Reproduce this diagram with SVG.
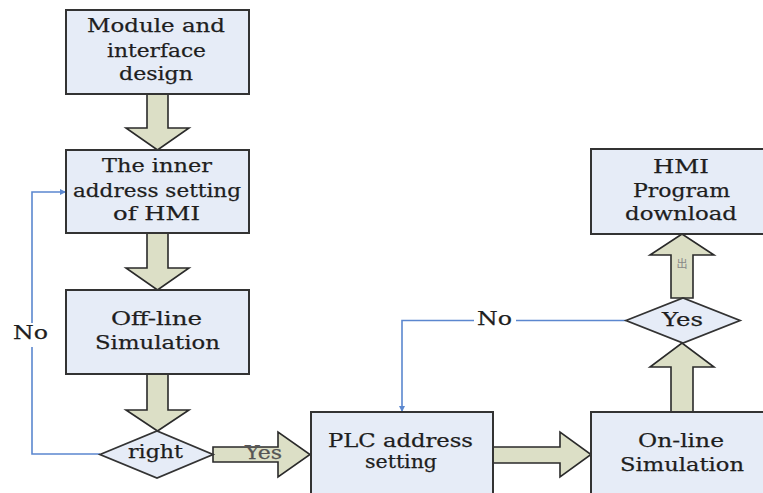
<svg xmlns="http://www.w3.org/2000/svg" width="763" height="493" viewBox="0 0 763 493">
<style>
.box{fill:#e6ecf7;stroke:#333;stroke-width:2}
.arr{fill:#dcdfc6;stroke:#2a2a2a;stroke-width:1.6;stroke-linejoin:miter}
.dia{fill:#e6ecf7;stroke:#333;stroke-width:1.8}
.blue{fill:none;stroke:#5b87cf;stroke-width:1.6}
text{font-family:"DejaVu Serif","Liberation Serif",serif;font-size:19px;fill:#1e1e1e;stroke:#1e1e1e;stroke-width:0.25;text-anchor:middle}
</style>
<defs>
<marker id="ah" viewBox="0 0 10 10" refX="10" refY="5" markerWidth="6" markerHeight="6" orient="auto" markerUnits="userSpaceOnUse">
<path d="M0,0 L10,5 L0,10 z" fill="#5b87cf"/>
</marker>
</defs>
<rect width="763" height="493" fill="#fff"/>

<g id="connectors">
<polygon class="arr" points="147,94 168,94 168,128 189,128 157.5,150 126,128 147,128"/>
<polygon class="arr" points="147,233 168,233 168,268 189,268 157.5,290 126,268 147,268"/>
<polygon class="arr" points="147,374 168,374 168,410 189,410 157.5,431 126,410 147,410"/>
<polygon class="arr" points="213,447 278,447 278,432 310,454.5 278,477 278,462 213,462"/>
<polygon class="arr" points="493,447 560,447 560,432 591,454.5 560,477 560,463 493,463"/>
<polygon class="arr" points="671,412 671,367 650,367 682,343 714,367 693,367 693,412"/>
<polygon class="arr" points="671,298 671,255 650,255 682,234 714,255 693,255 693,298"/>
<path class="blue" d="M100,454 H32 V192 H66" marker-end="url(#ah)"/>
<path class="blue" d="M626,320.5 H402 V412" marker-end="url(#ah)"/>
<rect x="12" y="323" width="38" height="24" fill="#fff"/>
<rect x="474" y="310" width="42" height="20" fill="#fff"/>
<text x="30.5" y="339" textLength="35" lengthAdjust="spacingAndGlyphs">No</text>
<text x="494.5" y="325" textLength="35" lengthAdjust="spacingAndGlyphs">No</text>
<text x="263.5" y="459" textLength="37" lengthAdjust="spacingAndGlyphs" style="fill:#555;stroke:#555">Yes</text>
<text x="682" y="268" style="font-family:'Noto Sans CJK SC',sans-serif;font-size:11px;fill:#888;stroke:none">出</text>
</g>

<g id="n1">
<rect class="box" x="66" y="10" width="183" height="84"/>
<text x="156" y="32" textLength="138" lengthAdjust="spacingAndGlyphs">Module and</text>
<text x="156.5" y="57" textLength="99" lengthAdjust="spacingAndGlyphs">interface</text>
<text x="156" y="80" textLength="74" lengthAdjust="spacingAndGlyphs">design</text>
</g>

<g id="n2">
<rect class="box" x="66" y="150" width="183" height="83"/>
<text x="157" y="172" textLength="110" lengthAdjust="spacingAndGlyphs">The inner</text>
<text x="157" y="197" textLength="168" lengthAdjust="spacingAndGlyphs">address setting</text>
<text x="156.5" y="220" textLength="87" lengthAdjust="spacingAndGlyphs">of HMI</text>
</g>

<g id="n3">
<rect class="box" x="66" y="290" width="183" height="84"/>
<text x="156.5" y="325" textLength="91" lengthAdjust="spacingAndGlyphs">Off-line</text>
<text x="157.5" y="349" textLength="125" lengthAdjust="spacingAndGlyphs">Simulation</text>
</g>

<g id="d1">
<polygon class="dia" points="100,454.5 157,431 213,454.5 157,478"/>
<text x="155.5" y="458" textLength="55" lengthAdjust="spacingAndGlyphs">right</text>
</g>

<g id="n4">
<rect class="box" x="311" y="412" width="182" height="90"/>
<text x="400.5" y="447" textLength="145" lengthAdjust="spacingAndGlyphs">PLC address</text>
<text x="401" y="468" textLength="72" lengthAdjust="spacingAndGlyphs">setting</text>
</g>

<g id="n5">
<rect class="box" x="591" y="412" width="190" height="90"/>
<text x="681" y="447" textLength="86" lengthAdjust="spacingAndGlyphs">On-line</text>
<text x="682" y="471" textLength="124" lengthAdjust="spacingAndGlyphs">Simulation</text>
</g>

<g id="d2">
<polygon class="dia" points="626,320.5 683,298 740,320.5 683,343"/>
<text x="682.5" y="326" textLength="41" lengthAdjust="spacingAndGlyphs">Yes</text>
</g>

<g id="n6">
<rect class="box" x="591" y="149" width="190" height="85"/>
<text x="681" y="173" textLength="56" lengthAdjust="spacingAndGlyphs">HMI</text>
<text x="681.5" y="197" textLength="97" lengthAdjust="spacingAndGlyphs">Program</text>
<text x="681" y="220" textLength="112" lengthAdjust="spacingAndGlyphs">download</text>
</g>
</svg>
